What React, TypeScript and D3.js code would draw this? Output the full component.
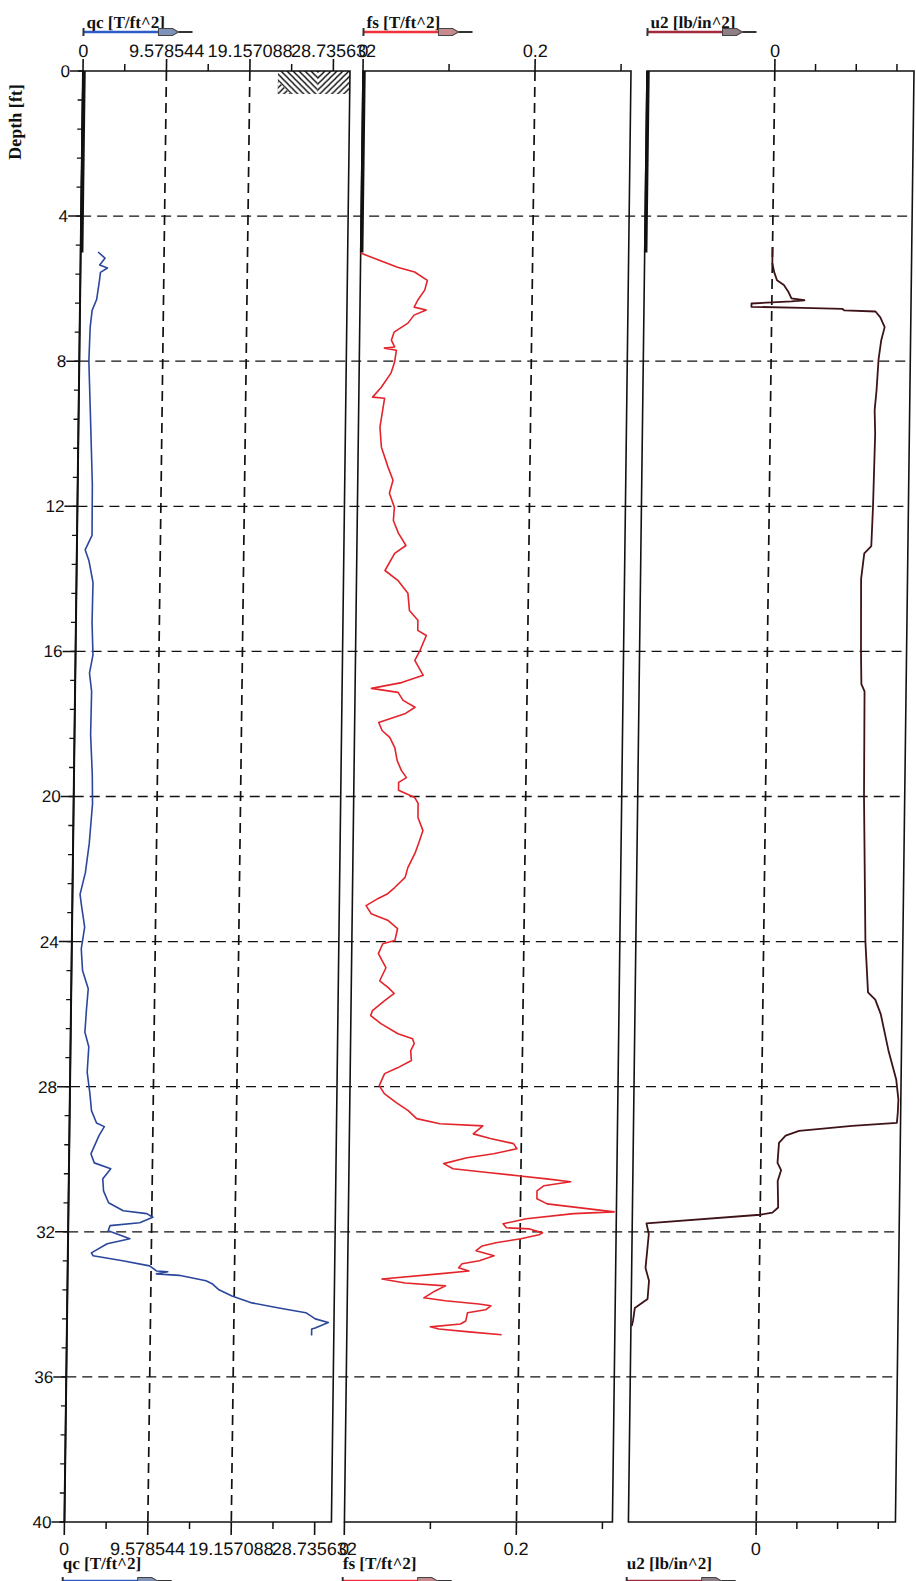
import React from 'react';
import * as d3 from 'd3';

// ---------------- DATA ----------------
const predrillDepth = 5.0;

const qcDepth = [4.99, 5.16, 5.35, 5.43, 5.55, 5.77, 6.3, 6.6, 7.06, 8.0, 9.5, 11.4, 12.8, 13.2, 13.5, 14.1, 15.2, 16.1, 16.6, 17.1, 18.3, 19.4, 20.2, 21.3, 22.1, 22.7, 23.0, 23.6, 24.2, 24.8, 25.3, 25.9, 26.5, 26.9, 27.6, 28.2, 28.66, 29.0, 29.1, 29.35, 29.85, 30.1, 30.26, 30.54, 30.87, 31.2, 31.42, 31.5, 31.6, 31.75, 31.83, 31.97, 32.19, 32.33, 32.58, 32.66, 32.8, 32.94, 33.08, 33.1, 33.16, 33.2, 33.35, 33.43, 33.6, 33.77, 33.96, 34.1, 34.23, 34.4, 34.5, 34.65, 34.68, 34.86];
const qcValue = [2.0, 2.8, 2.2, 3.1, 2.3, 2.2, 1.9, 1.4, 1.2, 1.1, 1.36, 1.68, 1.72, 0.95, 1.4, 1.9, 1.85, 2.0, 1.63, 1.9, 1.85, 2.1, 2.17, 1.85, 1.45, 0.87, 1.05, 1.45, 1.09, 1.27, 1.95, 1.77, 1.63, 2.1, 1.95, 2.3, 2.5, 3.1, 4.0, 3.4, 2.5, 2.9, 4.8, 3.9, 4.0, 4.6, 6.3, 9.0, 9.7, 8.2, 4.8, 4.6, 7.1, 4.5, 2.7, 2.9, 6.3, 9.4, 10.2, 11.5, 10.2, 12.8, 15.9, 16.6, 17.4, 18.9, 21.2, 24.3, 27.4, 28.5, 30.0, 28.5, 28.1, 28.1];

const fsDepth = [5.02, 5.41, 5.54, 5.77, 6.04, 6.32, 6.51, 6.59, 6.73, 6.95, 7.2, 7.42, 7.61, 7.64, 7.7, 8.03, 8.33, 8.72, 8.99, 9.02, 9.82, 10.37, 10.92, 11.28, 11.64, 12.03, 12.39, 12.74, 13.08, 13.3, 13.77, 14.04, 14.4, 14.87, 15.14, 15.42, 15.56, 15.97, 16.25, 16.66, 16.86, 17.02, 17.13, 17.35, 17.54, 17.71, 17.96, 18.18, 18.37, 18.65, 19.01, 19.28, 19.48, 19.61, 19.83, 20.03, 20.19, 20.58, 20.94, 21.3, 21.57, 21.96, 22.23, 22.51, 22.68, 22.81, 23.01, 23.23, 23.42, 23.64, 23.97, 24.06, 24.33, 24.72, 25.08, 25.27, 25.43, 25.63, 25.9, 26.04, 26.26, 26.54, 26.68, 26.81, 27.01, 27.28, 27.48, 27.64, 27.97, 28.19, 28.44, 28.66, 28.88, 29.02, 29.08, 29.3, 29.43, 29.57, 29.71, 29.85, 29.96, 30.12, 30.26, 30.37, 30.46, 30.54, 30.62, 30.73, 30.87, 31.09, 31.23, 31.34, 31.45, 31.5, 31.64, 31.78, 31.89, 31.92, 32.03, 32.08, 32.19, 32.3, 32.39, 32.52, 32.66, 32.8, 32.88, 32.99, 33.08, 33.16, 33.3, 33.41, 33.49, 33.63, 33.82, 33.9, 33.99, 34.04, 34.15, 34.23, 34.46, 34.54, 34.62, 34.68, 34.76, 34.84];
const fsValue = [0.0, 0.043, 0.063, 0.078, 0.075, 0.067, 0.063, 0.077, 0.063, 0.056, 0.04, 0.037, 0.041, 0.029, 0.043, 0.041, 0.037, 0.026, 0.016, 0.03, 0.025, 0.027, 0.035, 0.041, 0.037, 0.043, 0.042, 0.048, 0.057, 0.044, 0.033, 0.048, 0.06, 0.062, 0.072, 0.072, 0.082, 0.075, 0.069, 0.079, 0.054, 0.019, 0.05, 0.056, 0.07, 0.059, 0.028, 0.032, 0.041, 0.047, 0.05, 0.055, 0.061, 0.052, 0.052, 0.071, 0.075, 0.075, 0.081, 0.076, 0.072, 0.064, 0.061, 0.049, 0.041, 0.03, 0.016, 0.022, 0.042, 0.053, 0.05, 0.036, 0.031, 0.04, 0.033, 0.043, 0.05, 0.039, 0.025, 0.023, 0.035, 0.055, 0.072, 0.074, 0.07, 0.071, 0.055, 0.04, 0.034, 0.04, 0.054, 0.068, 0.078, 0.105, 0.155, 0.144, 0.164, 0.191, 0.195, 0.168, 0.137, 0.11, 0.121, 0.164, 0.199, 0.23, 0.258, 0.227, 0.219, 0.219, 0.231, 0.27, 0.309, 0.262, 0.207, 0.18, 0.184, 0.211, 0.226, 0.222, 0.201, 0.172, 0.156, 0.149, 0.17, 0.153, 0.133, 0.129, 0.141, 0.106, 0.04, 0.067, 0.114, 0.102, 0.089, 0.114, 0.153, 0.167, 0.161, 0.14, 0.138, 0.132, 0.097, 0.107, 0.142, 0.18];

const u2Depth = [4.85, 5.3, 5.55, 5.77, 5.9, 6.1, 6.27, 6.32, 6.35, 6.41, 6.5, 6.53, 6.56, 6.6, 6.63, 6.79, 7.06, 7.42, 7.95, 8.8, 9.35, 10.0, 12.0, 13.1, 13.3, 14.0, 16.0, 16.9, 17.1, 20.0, 24.0, 25.4, 25.6, 26.0, 27.0, 27.8, 28.35, 28.7, 29.0, 29.08, 29.22, 29.35, 29.55, 30.1, 30.3, 30.6, 31.33, 31.47, 31.53, 31.77, 32.06, 33.0, 33.35, 33.85, 34.1, 34.45, 34.6];
const u2Value = [0.0, 0.0, 0.05, 0.12, 0.29, 0.41, 0.48, 0.8, 0.48, -0.5, -0.5, 0.76, 1.74, 1.78, 2.55, 2.67, 2.78, 2.7, 2.64, 2.6, 2.56, 2.58, 2.55, 2.52, 2.35, 2.28, 2.3, 2.32, 2.4, 2.42, 2.5, 2.58, 2.76, 2.9, 3.1, 3.3, 3.36, 3.35, 3.33, 2.23, 0.93, 0.6, 0.44, 0.41, 0.5, 0.42, 0.44, 0.3, 0.0, -2.79, -2.73, -2.8, -2.71, -2.74, -3.05, -3.09, -3.12];

const depthMajorTicks = [0, 4, 8, 12, 16, 20, 24, 28, 32, 36, 40];
const depthMinorTicks = d3.range(0, 40.001, 0.8);
const gridDepths = [4, 8, 12, 16, 20, 24, 28, 32, 36];

const qcMajorTicks = [0, 9.578544, 19.157088, 28.735632];
const qcTickLabels = ['0', '9.578544', '19.157088', '28.735632'];
const qcMinorTicks = [4.789272, 14.367816, 23.94636];
const qcGrid = [9.578544, 19.157088];

const fsMajorTicks = [0, 0.2];
const fsTickLabels = ['0', '0.2'];
const fsMinorTicks = [0.1, 0.3];
const fsGrid = [0.2];

const u2MajorTicks = [0];
const u2TickLabels = ['0'];
const u2MinorTicks = [1, 2, 3];
const u2Grid = [0];

// ---------------- LAYOUT ----------------
const W = 916, H = 1581;
const TOP = 71, BOT = 1522;
const SKEW = 0.0128;
const SANS = 'Liberation Sans, Arial, sans-serif';
const SERIF = 'Liberation Serif, Times New Roman, serif';

const yScale = d3.scaleLinear().domain([0, 40]).range([TOP, BOT]);

type Panel = {
  title: string; x0: number; x1: number; domain: [number, number];
  depth: number[]; value: number[]; color: string; lineColor: string; headColor: string;
  major: number[]; labels: string[]; minor: number[]; grid: number[]; lw: number;
};

const panels: Panel[] = [
  { title: 'qc [T/ft^2]', x0: 83, x1: 350, domain: [0, 30.6513], depth: qcDepth, value: qcValue, color: '#2b479c', lineColor: '#2f5bc9', headColor: '#7f93b8', major: qcMajorTicks, labels: qcTickLabels, minor: qcMinorTicks, grid: qcGrid, lw: 1.6 },
  { title: 'fs [T/ft^2]', x0: 363, x1: 631, domain: [0, 0.3116], depth: fsDepth, value: fsValue, color: '#e3242b', lineColor: '#f0303a', headColor: '#c98a8e', major: fsMajorTicks, labels: fsTickLabels, minor: fsMinorTicks, grid: fsGrid, lw: 1.6 },
  { title: 'u2 [lb/in^2]', x0: 647, x1: 914, domain: [-3.14, 3.42], depth: u2Depth, value: u2Value, color: '#3d1318', lineColor: '#a22a3c', headColor: '#8f7f86', major: u2MajorTicks, labels: u2TickLabels, minor: u2MinorTicks, grid: u2Grid, lw: 1.8 },
];

function HeaderArrow({ x, y, color, head }: { x: number; y: number; color: string; head: string }) {
  return (
    <g>
      <line x1={x} x2={x + 76} y1={y} y2={y} stroke={color} strokeWidth={2.6} />
      <line x1={x} x2={x} y1={y - 4} y2={y + 4} stroke="#333" strokeWidth={2} />
      <polygon points={`${x + 75},${y - 3.5} ${x + 89},${y - 3.5} ${x + 95},${y} ${x + 89},${y + 3.5} ${x + 75},${y + 3.5}`} fill={head} stroke="#444" strokeWidth={1} />
      <line x1={x + 95} x2={x + 109} y1={y} y2={y} stroke="#333" strokeWidth={2} />
    </g>
  );
}

function PanelView({ p }: { p: Panel }) {
  const x = d3.scaleLinear().domain(p.domain).range([p.x0, p.x1]);
  const pts: [number, number][] = p.depth.map((d, i) => [d, p.value[i]]);
  const line = d3.line<[number, number]>().x(d => x(d[1])).y(d => yScale(d[0]));
  return (
    <g>
      {p.grid.map((g, i) => (
        <line key={'vg' + i} x1={x(g)} x2={x(g)} y1={TOP} y2={BOT} stroke="#111" strokeWidth={1.7} strokeDasharray="10,6" />
      ))}
      <rect x={p.x0} y={TOP} width={p.x1 - p.x0} height={BOT - TOP} fill="none" stroke="#111" strokeWidth={1.6} />
      {p.major.map((t, i) => (
        <g key={'tm' + i}>
          <line x1={x(t)} x2={x(t)} y1={TOP} y2={TOP - 12} stroke="#111" strokeWidth={1.6} />
          <line x1={x(t)} x2={x(t)} y1={BOT} y2={BOT + 13} stroke="#111" strokeWidth={1.6} />
          <text x={x(t)} y={57} textAnchor="middle" fontFamily={SANS} fontSize={18} fill="#111">{p.labels[i]}</text>
          <text x={x(t)} y={1555} textAnchor="middle" fontFamily={SANS} fontSize={18} fill="#111">{p.labels[i]}</text>
        </g>
      ))}
      {p.minor.map((t, i) => (
        <g key={'tn' + i}>
          <line x1={x(t)} x2={x(t)} y1={TOP} y2={TOP - 7} stroke="#111" strokeWidth={1.5} />
          <line x1={x(t)} x2={x(t)} y1={BOT} y2={BOT + 7} stroke="#111" strokeWidth={1.5} />
        </g>
      ))}
      <line x1={p.x0 + 1} x2={p.x0 + 1} y1={yScale(0)} y2={yScale(predrillDepth)} stroke="#111" strokeWidth={3.5} />
      <path d={line(pts) || ''} fill="none" stroke={p.color} strokeWidth={p.lw} strokeLinejoin="round" />
      <text x={p.x0 + 3} y={28} fontFamily={SERIF} fontWeight="bold" fontSize={17} fill="#111">{p.title}</text>
      <HeaderArrow x={p.x0} y={32} color={p.lineColor} head={p.headColor} />
      <text x={p.x0 - 1} y={1569} fontFamily={SERIF} fontWeight="bold" fontSize={17} fill="#111">{p.title}</text>
      <HeaderArrow x={p.x0 - 1} y={1581} color={p.lineColor} head={p.headColor} />
    </g>
  );
}

export default function App() {
  const p1 = panels[0];
  const p3 = panels[2];
  const skewDeg = -Math.atan(SKEW) * 180 / Math.PI;
  return (
    <div style={{ position: 'absolute', left: 0, top: 0, width: W, height: H, background: '#fff' }}>
      <svg width={W} height={H} viewBox={`0 0 ${W} ${H}`} style={{ display: 'block' }}>
        <defs>
          <pattern id="hatchBack" patternUnits="userSpaceOnUse" width={6} height={6}>
            <path d="M-1,-1 L7,7 M-1,5 L1,7 M5,-1 L7,1" stroke="#111" strokeWidth={1.4} />
          </pattern>
          <pattern id="hatchFwd" patternUnits="userSpaceOnUse" width={6} height={6}>
            <path d="M-1,7 L7,-1 M-1,1 L1,-1 M5,7 L7,5" stroke="#111" strokeWidth={1.4} />
          </pattern>
        </defs>
        <rect x={0} y={0} width={W} height={H} fill="#fff" />
        <g transform={`translate(${TOP * SKEW},0) skewX(${skewDeg})`}>
          {gridDepths.map((d, i) => (
            <line key={'hg' + i} x1={p1.x0} x2={p3.x1} y1={yScale(d)} y2={yScale(d)} stroke="#111" strokeWidth={1.3} strokeDasharray="10,6" />
          ))}
          <rect x={278} y={TOP} width={40} height={23} fill="url(#hatchBack)" />
          <polygon points={`278,${TOP + 23} 278,${TOP + 10} 291,${TOP + 23}`} fill="#fff" />
          <polygon points={`278,${TOP + 23} 278,${TOP + 10} 291,${TOP + 23}`} fill="url(#hatchFwd)" />
          <rect x={318} y={TOP} width={32} height={23} fill="url(#hatchFwd)" />
          {panels.map((p, i) => <PanelView key={i} p={p} />)}
          <line x1={p1.x0} x2={p1.x0} y1={TOP} y2={BOT} stroke="#111" strokeWidth={2} />
          {depthMinorTicks.map((d, i) => (
            <line key={'dm' + i} x1={p1.x0 - 5} x2={p1.x0} y1={yScale(d)} y2={yScale(d)} stroke="#111" strokeWidth={1.3} />
          ))}
          {depthMajorTicks.map((d, i) => (
            <g key={'dM' + i}>
              <line x1={p1.x0 - 13} x2={p1.x0} y1={yScale(d)} y2={yScale(d)} stroke="#111" strokeWidth={1.5} />
              <text x={p1.x0 - 13} y={yScale(d) + 6} textAnchor="end" fontFamily={SANS} fontSize={17} fill="#111">{d}</text>
            </g>
          ))}
          <text transform={`translate(22,122) rotate(-90)`} textAnchor="middle" fontFamily={SERIF} fontWeight="bold" fontSize={18} fill="#111">Depth [ft]</text>
        </g>
      </svg>
    </div>
  );
}
